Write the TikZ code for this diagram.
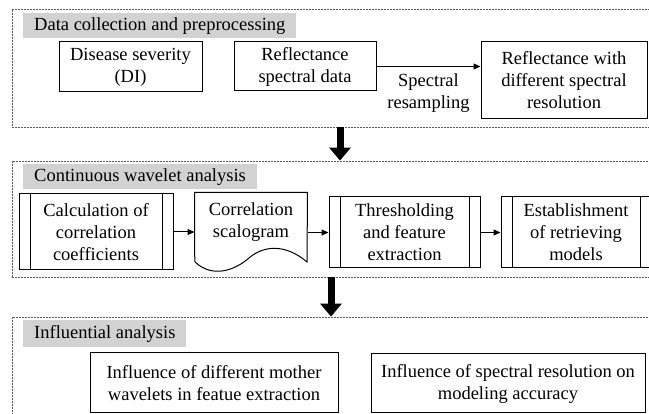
\documentclass[tikz,border=0pt]{standalone}
\usepackage{fontspec}
\setmainfont{Liberation Serif}
\usetikzlibrary{arrows.meta}

\begin{document}
\begin{tikzpicture}[x=1pt,y=-1pt,
        box/.style={draw, line width=1pt, align=center, inner sep=2pt, font=\fontsize{18.5}{22}\selectfont},
        pproc/.style={box, path picture={
            \draw[line width=1pt] ([xshift=11pt]path picture bounding box.north west) -- ([xshift=11pt]path picture bounding box.south west)
                ([xshift=-11pt]path picture bounding box.north east) -- ([xshift=-11pt]path picture bounding box.south east);}},
        group/.style={draw=gray!70!black, line width=0.8pt, dash pattern=on 2pt off 1pt, inner sep=0pt},
        title/.style={fill=gray!35, anchor=north west, inner xsep=11pt, inner ysep=0pt, minimum height=25pt, font=\fontsize{18.5}{22}\selectfont},
        flow/.style={line width=1pt, -{Triangle[length=7pt,width=6pt]}},
        bigflow/.style={line width=7pt, -{Triangle[length=13pt,width=21pt]}}]
        \clip (0,0) rectangle (649,414);

        % dashed groups
        \node[group, minimum width=638pt, minimum height=118pt] (grp1) at (331,68) {};
        \node[group, minimum width=638pt, minimum height=116pt] (grp2) at (331,219) {};
        \node[group, minimum width=638pt, minimum height=113pt] (grp3) at (331,373.5) {};

        % group titles
        \node[title] (tit1) at (23,13) {Data collection and preprocessing};
        \node[title] (tit2) at (23,164) {Continuous wavelet analysis};
        \node[title, minimum height=27pt] (tit3) at (23,320) {Influential analysis};

        % Data collection and preprocessing
        \node[box, minimum width=143pt, minimum height=50pt] (dis) at (130.5,67) {Disease severity\\(DI)};
        \node[box, minimum width=142pt, minimum height=49pt] (refl) at (305,66.5) {Reflectance\\spectral data};
        \node[box, minimum width=166pt, minimum height=77pt] (resol) at (564,80.5) {Reflectance with\\different spectral\\resolution};
        \draw[flow] (refl.east) -- node[below=3pt, align=center, font=\fontsize{18.5}{22}\selectfont] {Spectral\\resampling} (refl.east -| resol.west);

        % Continuous wavelet analysis
        \node[pproc, minimum width=154pt, minimum height=76pt] (calc) at (96,232) {Calculation of\\correlation\\coefficients};
        \node[box, draw=none, minimum width=112pt, minimum height=58pt] (scal) at (251,222) {Correlation\\scalogram};
        \draw[line width=1pt] (scal.south west) -- (scal.north west) -- (scal.north east) -- (307,262)
            .. controls (286,244) and (264,245) .. (249,258) .. controls (234,271) and (212,278) .. (195,262) -- cycle;
        \node[pproc, minimum width=151pt, minimum height=71pt] (thr) at (404.5,232.5) {Thresholding\\and feature\\extraction};
        \node[pproc, minimum width=150pt, minimum height=71pt] (est) at (576,232.5) {Establishment\\of retrieving\\models};
        \draw[flow] (calc.east) -- (calc.east -| scal.west);
        \draw[flow] (thr.west -| scal.east) -- (thr.west);
        \draw[flow] (thr.east) -- (est.west);

        % Influential analysis
        \node[box, minimum width=248pt, minimum height=60pt] (inf1) at (214,383) {Influence of different mother\\wavelets in featue extraction};
        \node[box, minimum width=274pt, minimum height=59pt] (inf2) at (508,383.5) {Influence of spectral resolution on\\modeling accuracy};

        % between groups
        \draw[bigflow] ([xshift=9pt]grp1.south) -- ([xshift=9pt]grp2.north);
        \draw[bigflow] (grp2.south) -- (grp3.north);
\end{tikzpicture}
\end{document}
